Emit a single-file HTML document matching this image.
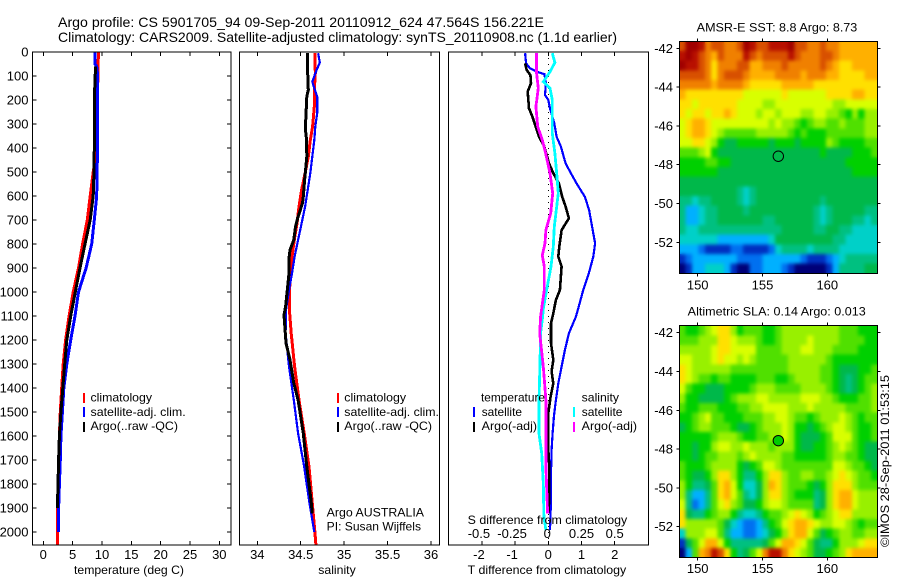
<!DOCTYPE html>
<html lang="en">
<head>
<meta charset="utf-8">
<title>Argo profile chart</title>
<style>
html,body{margin:0;padding:0;background:#fff;}
svg{display:block;font-family:"Liberation Sans",sans-serif;font-size:12px;fill:#000;}
text{fill:#000;}
</style>
</head>
<body>
<svg id="chart" xmlns="http://www.w3.org/2000/svg" width="900" height="580" viewBox="0 0 900 580">
  <rect x="0" y="0" width="900" height="580" fill="#fff"/>
  <defs id="chart-defs">
    <clipPath id="clip1"><rect x="32.5" y="52" width="198.5" height="493"/></clipPath>
    <clipPath id="clip2"><rect x="239.5" y="52" width="200" height="493"/></clipPath>
    <clipPath id="clip3"><rect x="448.5" y="52" width="200" height="493"/></clipPath>
    <filter id="mapBlur" x="-5%" y="-5%" width="110%" height="110%" color-interpolation-filters="sRGB"><feGaussianBlur stdDeviation="1.9"/></filter>
  </defs>
  <g id="layer-marks"></g>
  <g id="layer-axes"></g>

  <text x="58" y="27" font-size="14" textLength="486" lengthAdjust="spacingAndGlyphs">Argo profile: CS 5901705_94 09-Sep-2011 20110912_624 47.564S 156.221E</text>
  <text x="58" y="42" font-size="14" textLength="559" lengthAdjust="spacingAndGlyphs">Climatology: CARS2009. Satellite-adjusted climatology: synTS_20110908.nc (1.1d earlier)</text>

  <text x="74" y="574" textLength="110" lengthAdjust="spacingAndGlyphs">temperature (deg C)</text>
  <text x="318.3" y="574" textLength="37.4" lengthAdjust="spacingAndGlyphs">salinity</text>
  <text x="467.7" y="574" textLength="158.5" lengthAdjust="spacingAndGlyphs">T difference from climatology</text>
  <text x="467.7" y="524" textLength="159.5" lengthAdjust="spacingAndGlyphs">S difference from climatology</text>

  <g>
    <rect x="83" y="393" width="2" height="10" fill="#f00"/>
    <rect x="83" y="407" width="2" height="10" fill="#00f"/>
    <rect x="83" y="422" width="2" height="10" fill="#000"/>
    <text x="90.5" y="401.7" textLength="61.5" lengthAdjust="spacingAndGlyphs">climatology</text>
    <text x="90.5" y="416" textLength="95.2" lengthAdjust="spacingAndGlyphs">satellite-adj. clim.</text>
    <text x="90.5" y="430" textLength="87.5" lengthAdjust="spacingAndGlyphs">Argo(..raw -QC)</text>
  </g>
  <g>
    <rect x="337" y="393" width="2" height="10" fill="#f00"/>
    <rect x="337" y="407" width="2" height="10" fill="#00f"/>
    <rect x="337" y="422" width="2" height="10" fill="#000"/>
    <text x="344.3" y="401.7" textLength="61.7" lengthAdjust="spacingAndGlyphs">climatology</text>
    <text x="344.3" y="416" textLength="94.7" lengthAdjust="spacingAndGlyphs">satellite-adj. clim.</text>
    <text x="344.3" y="430" textLength="87.7" lengthAdjust="spacingAndGlyphs">Argo(..raw -QC)</text>
    <text x="326.7" y="516.7" textLength="97.3" lengthAdjust="spacingAndGlyphs">Argo AUSTRALIA</text>
    <text x="326.7" y="530.7" textLength="94.3" lengthAdjust="spacingAndGlyphs">PI: Susan Wijffels</text>
  </g>
  <g>
    <text x="481" y="401.7" textLength="64" lengthAdjust="spacingAndGlyphs">temperature</text>
    <rect x="473" y="407" width="2" height="10" fill="#00f"/>
    <text x="481.7" y="416" textLength="40.3" lengthAdjust="spacingAndGlyphs">satellite</text>
    <rect x="473" y="422" width="2" height="10" fill="#000"/>
    <text x="481.7" y="430" textLength="55.3" lengthAdjust="spacingAndGlyphs">Argo(-adj)</text>
    <text x="581.7" y="401.7" textLength="37.3" lengthAdjust="spacingAndGlyphs">salinity</text>
    <rect x="573" y="407" width="2" height="10" fill="#0ff"/>
    <text x="581.7" y="416" textLength="40.8" lengthAdjust="spacingAndGlyphs">satellite</text>
    <rect x="573" y="422" width="2" height="10" fill="#f0f"/>
    <text x="581.7" y="430" textLength="55.3" lengthAdjust="spacingAndGlyphs">Argo(-adj)</text>
  </g>

  <text x="696.7" y="31.7" textLength="160.6" lengthAdjust="spacingAndGlyphs">AMSR-E SST: 8.8 Argo: 8.73</text>
  <text x="687.7" y="315.7" textLength="178" lengthAdjust="spacingAndGlyphs">Altimetric SLA: 0.14 Argo: 0.013</text>
  <text transform="translate(889 547) rotate(-90)" x="0" y="0" textLength="172" lengthAdjust="spacingAndGlyphs">©IMOS 28-Sep-2011 01:53:15</text>
</svg>

<script>
// ---------- profile data (depth in dbar) ----------
const tempClimDepth=[0,100,430,500,600,700,800,900,1000,1100,1200,1300,1400,1500,1600,1700,1800,1900,2054];
const tempClim=[9.4,9.3,9.0,8.5,8.0,7.5,6.7,6.0,5.1,4.4,3.8,3.4,3.13,2.9,2.75,2.6,2.5,2.45,2.45];
const tempSatDepth=[0,50,60,100,400,500,600,700,800,900,1000,1100,1200,1300,1400,1500,1600,1700,1800,1900,2000];
const tempSat=[8.8,8.8,9.1,9.27,9.27,9.15,9.1,8.7,8.25,7.3,6.0,5.4,4.67,4.0,3.5,3.25,3.0,2.9,2.75,2.6,2.55];
const tempArgoDepth=[60,100,200,400,500,600,700,800,900,1000,1100,1200,1300,1500,1600,1700,1800,1900];
const tempArgo=[8.9,8.85,8.7,8.7,8.65,8.5,8.0,7.1,6.25,5.45,4.67,4.0,3.65,3.0,2.75,2.6,2.5,2.4];

const salClimDepth=[5,89,158,228,311,367,436,505,575,644,714,783,853,922,992,1075,1172,1311,1450,1589,1728,1867,2006,2054];
const salClim=[34.664,34.668,34.656,34.656,34.637,34.61,34.587,34.55,34.51,34.48,34.457,34.426,34.4,34.388,34.37,34.37,34.39,34.43,34.48,34.54,34.595,34.63,34.664,34.675];
const salSatDepth=[5,44,75,124,151,186,255,311,367,436,505,575,644,714,783,853,922,992,1075,1172,1311,1450,1589,1728,1867,2000];
const salSat=[34.7,34.72,34.683,34.633,34.656,34.69,34.69,34.668,34.656,34.633,34.61,34.58,34.55,34.51,34.47,34.43,34.4,34.365,34.33,34.326,34.365,34.42,34.47,34.54,34.595,34.656];
const salArgoDepth=[5,89,158,186,269,318,367,436,478,533,603,630,686,728,783,825,860,922,992,1061,1095,1213,1283,1380,1450,1589,1728,1867,1922];
const salArgo=[34.576,34.58,34.587,34.57,34.56,34.553,34.568,34.57,34.56,34.545,34.53,34.52,34.47,34.44,34.42,34.376,34.365,34.365,34.345,34.326,34.307,34.33,34.376,34.42,34.47,34.53,34.57,34.618,34.633];

const diffTSatDepth=[5,47,68,82,92,130,179,200,235,297,353,394,464,505,547,603,658,714,797,853,922,992,1069,1103,1172,1242,1311,1381,1450,1519,1589,1658,1756,1867,1992];
const diffTSat=[-0.7,-0.67,-0.55,-0.35,-0.12,-0.07,-0.1,0,0.05,0.18,0.25,0.38,0.52,0.68,0.85,1.1,1.23,1.3,1.41,1.355,1.22,1.05,0.9,0.83,0.62,0.5,0.4,0.3,0.23,0.17,0.13,0.1,0.08,0.08,0.05];
const diffTArgoDepth=[47,75,96,130,165,235,269,311,353,394,464,505,547,603,644,693,742,811,853,894,992,1033,1089,1130,1213,1283,1331,1381,1436,1505,1589,1658,1728,1867,1922];
const diffTArgo=[-0.7,-0.65,-0.54,-0.52,-0.62,-0.58,-0.48,-0.38,-0.28,-0.12,0.02,0.15,0.32,0.42,0.52,0.62,0.4,0.33,0.3,0.4,0.35,0.23,0.15,0.08,0.08,0.15,0.1,0.15,0.07,0,0,0,0.03,0.03,0];
const diffSSatDepth=[5,44,82,124,151,200,339,422,505,589,644,728,811,894,992,1069,1103,1172,1311,1450,1589,1672,1797,1936,1992];
const diffSSat=[0.03,0.05,0.0125,-0.0375,0.0125,0.03,0.03,0.05,0.063,0.075,0.063,0.045,0.038,0.02,-0.0125,-0.0375,-0.043,-0.058,-0.063,-0.07,-0.07,-0.05,-0.0375,-0.033,-0.018];
const diffSArgoDepth=[5,89,151,228,311,367,422,505,589,672,742,797,847,894,992,1069,1103,1172,1311,1450,1589,1728,1922];
const diffSArgo=[-0.088,-0.088,-0.075,-0.093,-0.08,-0.045,-0.02,0.0125,0.033,0.018,-0.018,-0.025,-0.045,-0.03,-0.03,-0.05,-0.058,-0.065,-0.038,-0.018,-0.018,-0.018,-0.005];

// ---------- tick labels ----------
const depthTicks=[0,100,200,300,400,500,600,700,800,900,1000,1100,1200,1300,1400,1500,1600,1700,1800,1900,2000];
const tempTicks=[0,5,10,15,20,25,30];
const salTicks=[34,34.5,35,35.5,36];
const diffTTicks=[-2,-1,0,1,2];
const diffSTicks=[-0.5,-0.25,0,0.25,0.5];
const lonTicks=[150,155,160];
const latTicks=[-42,-44,-46,-48,-50,-52];

// ---------- map data: colour-class value for each grid cell (rows north to south) ----------
const floatLon=156.221;
const floatLat=-47.564;
const sstCells=[
[14,16,16,15,13,14,14,13,13,14,16,15,14,14,15,15,15,16,14,14,13,13,14,13,13,12,12,12,12,12,12],
[15,16,15,14,13,12,14,13,13,13,15,14,13,14,14,14,14,15,14,13,13,13,14,14,13,12,12,12,12,12,12],
[16,15,15,14,13,11,13,13,13,14,14,12,12,13,13,13,14,13,13,13,13,13,14,13,12,11,11,12,12,12,12],
[14,14,14,14,13,11,13,14,14,14,13,12,12,12,12,13,13,13,13,12,13,13,13,12,12,11,11,11,11,12,12],
[13,13,13,13,13,12,13,13,13,13,12,11,11,11,11,11,12,12,12,12,12,11,11,11,11,11,11,11,11,11,11],
[12,11,11,11,11,11,11,11,11,11,10,10,10,10,10,10,11,10,10,10,10,10,10,11,11,11,11,12,12,11,11],
[11,11,10,11,11,11,11,11,11,10,10,10,10,9,9,10,10,10,10,10,10,10,10,10,9,9,10,10,10,10,10],
[11,10,11,11,10,11,11,12,11,10,10,10,9,10,10,9,10,10,10,9,9,10,10,9,9,8,7,9,7,9,9],
[10,11,12,12,11,10,10,10,10,10,10,10,10,10,9,10,9,9,8,7,8,9,9,8,8,9,8,8,8,9,9],
[10,11,12,12,11,10,9,8,8,8,8,8,9,9,9,9,9,8,7,8,7,7,7,8,8,8,8,8,8,9,9],
[10,10,11,11,10,9,7,6,6,7,7,7,7,7,6,7,7,7,6,7,7,7,7,9,8,7,7,7,7,8,8],
[8,8,8,9,10,7,6,6,6,6,6,6,6,6,6,6,6,6,6,6,6,6,7,6,6,6,6,7,7,7,8],
[7,7,7,7,8,8,7,7,6,6,6,6,6,6,6,6,6,6,6,6,6,6,6,6,6,6,7,7,7,7,7],
[7,7,7,7,7,7,6,6,6,6,6,6,6,6,6,6,6,6,6,6,6,6,6,6,6,6,6,7,7,7,7],
[6,6,6,6,6,6,6,6,6,6,6,6,6,6,6,6,6,6,6,6,6,6,6,6,6,6,6,6,6,6,6],
[6,6,6,6,6,6,6,6,6,5,4,5,6,6,6,6,6,6,6,6,6,6,6,6,6,6,6,6,6,6,6],
[5,5,4,5,5,6,6,6,6,5,4,5,6,6,6,6,6,6,6,6,6,6,5,6,6,6,6,6,6,6,6],
[5,3,3,4,5,5,6,6,6,6,5,6,6,6,6,6,6,6,6,6,6,5,4,5,6,6,6,6,6,5,5],
[5,3,3,4,5,5,6,6,6,6,6,6,6,5,5,6,6,6,6,6,6,5,4,5,6,6,6,5,5,4,5],
[5,4,4,5,5,5,5,5,5,5,5,5,5,5,5,5,6,6,6,6,6,5,5,6,6,5,5,4,4,4,4],
[4,4,4,4,4,4,3,3,3,3,3,3,3,3,4,6,6,6,6,6,6,6,6,6,5,5,4,4,4,4,4],
[3,3,3,2,1,1,1,1,2,2,1,1,1,1,2,4,5,5,5,5,4,5,5,5,5,4,4,4,4,4,4],
[1,2,3,3,3,3,3,3,3,2,2,2,2,3,3,3,3,3,3,2,1,1,1,2,3,4,5,5,5,5,5],
[0,1,3,3,4,4,4,3,1,0,0,2,2,3,3,3,2,1,0,0,0,0,0,1,3,5,5,5,5,6,6]
];
const slaCells=[
[8,7,7,8,9,10,11,11,9,7,8,8,8,7,7,8,9,9,9,9,9,9,9,9,9,8,8,8,7,7,7],
[8,8,8,9,9,9,11,11,10,9,9,9,8,7,7,8,9,9,9,9,10,9,9,9,9,8,8,8,8,7,7],
[9,9,9,9,9,10,11,11,10,10,10,10,8,8,8,8,9,9,9,10,10,9,9,9,8,8,8,8,7,7,7],
[10,10,9,9,9,10,11,10,10,9,10,9,8,8,8,8,8,9,9,9,9,9,9,8,7,7,7,7,7,7,7],
[11,10,9,9,9,9,9,9,8,8,8,8,8,8,8,8,8,9,9,9,9,9,8,8,7,6,6,6,7,7,8],
[11,10,9,8,8,7,8,8,7,7,7,7,8,8,8,7,7,8,9,9,9,9,8,8,7,6,5,6,7,8,8],
[10,8,7,7,6,6,6,7,7,7,7,8,9,9,9,8,8,8,8,9,9,9,9,8,7,6,5,6,7,8,9],
[9,7,7,6,6,6,6,7,8,9,9,9,10,10,9,9,9,9,9,10,10,10,9,9,8,7,7,7,8,8,9],
[8,7,7,8,8,8,7,7,7,8,8,9,9,10,10,10,10,9,9,9,10,9,9,9,9,9,8,8,8,8,9],
[7,7,8,9,10,8,8,7,7,7,8,8,8,9,9,10,10,9,8,8,7,8,9,9,9,10,9,8,7,8,8],
[6,7,8,9,9,8,8,8,7,6,6,7,8,9,9,9,10,9,7,7,6,7,8,9,10,10,9,8,7,7,8],
[7,7,7,7,7,8,9,9,9,8,7,7,8,8,9,9,10,9,7,6,6,6,7,8,10,10,10,8,7,7,8],
[7,7,6,7,7,9,10,10,9,9,10,9,9,9,8,9,9,9,7,6,6,7,7,8,9,10,9,8,7,6,6],
[7,7,6,7,8,8,9,9,9,8,9,10,9,9,9,9,8,8,7,7,7,7,7,8,9,9,8,8,7,6,6],
[8,7,7,7,8,9,9,9,9,7,6,7,8,10,10,9,8,8,8,8,8,8,8,8,10,10,9,8,8,7,6],
[8,7,6,6,7,9,11,11,9,7,5,5,7,9,11,11,9,8,8,9,9,8,8,9,10,11,10,9,8,8,7],
[9,7,5,5,6,8,11,12,10,7,4,4,6,9,12,11,9,8,8,8,7,6,7,9,11,11,11,9,8,8,8],
[9,5,3,3,5,8,11,12,10,8,5,4,6,9,11,11,9,8,7,7,7,5,6,9,11,12,12,10,9,9,9],
[10,5,2,3,5,8,10,11,9,8,6,6,7,9,10,10,9,8,8,8,8,5,6,9,11,12,12,10,9,9,9],
[11,6,5,5,7,8,9,9,7,5,4,4,5,7,8,8,9,10,11,10,9,7,8,9,10,11,11,9,9,9,9],
[11,9,9,9,9,9,8,6,4,3,2,2,3,5,7,8,10,11,12,12,11,10,9,9,10,10,9,8,7,8,8],
[4,9,9,9,10,10,8,5,3,3,2,2,3,4,6,7,9,11,12,12,10,8,6,7,8,9,9,8,8,9,9],
[1,6,8,10,12,12,10,7,5,5,5,5,5,6,8,10,12,12,11,10,8,6,5,5,7,9,9,9,10,11,11],
[0,3,8,12,13,15,14,11,7,5,6,8,10,13,15,15,13,11,10,9,8,6,6,7,8,9,11,12,12,12,12]
];

// ---------- colour scale ----------
const mapPalette=['#000078','#0030c0','#0070f0','#00b0ff','#00d0c8','#00c080','#00b84a','#00d000','#50e000','#98f000','#d8ff00','#ffe000','#ffb000','#f08000','#d85000','#b81000','#a00000'];

// ---------- axis functions ----------
const depthY=d=>52+d*0.24;
const tempX=t=>43.3+5.867*t;
const salX=s=>257.3+86.85*(s-34);
const diffTX=t=>548.3+33.2*t;
const diffSX=s=>548.3+132.8*s;
const mapX=lon=>697.7+12.96*(lon-150);
const sstY=lat=>48.3+19.4*(-42-lat);
const slaY=lat=>332.7+19.4*(-42-lat);

const NS='http://www.w3.org/2000/svg';
const marks=document.getElementById('layer-marks');
const axes=document.getElementById('layer-axes');
const defs=document.getElementById('chart-defs');

function mk(tag,attrs,parent){
  const el=document.createElementNS(NS,tag);
  for(const k in attrs){el.setAttribute(k,attrs[k]);}
  parent.appendChild(el);
  return el;
}

function drawProfile(name,depths,values,xFn,color,clip,width){
  const pts=depths.map((d,i)=>xFn(values[i]).toFixed(1)+','+depthY(d).toFixed(1)).join(' ');
  const el=mk('polyline',{points:pts,fill:'none',stroke:color,'stroke-width':width,'shape-rendering':'crispEdges','clip-path':'url(#'+clip+')'},marks);
  
  
}

function drawBox(name,x0,x1,y0,y1){
  const el=mk('rect',{x:x0,y:y0,width:x1-x0,height:y1-y0,fill:'none',stroke:'#000','stroke-width':1,'shape-rendering':'crispEdges'},axes);
  
  
}

function drawTick(name,x1,y1,x2,y2){
  const el=mk('line',{x1:x1,y1:y1,x2:x2,y2:y2,stroke:'#000','stroke-width':1,'shape-rendering':'crispEdges'},axes);
  
  
}

function drawLabel(name,x,y,str,anchor){
  const el=mk('text',{x:x,y:y,'text-anchor':anchor,'font-size':13},axes);
  el.textContent=str;
  
  
}

// ---------- zero line in the difference panel ----------
const zeroLine=mk('line',{x1:diffTX(0),y1:52,x2:diffTX(0),y2:545,stroke:'#000','stroke-width':1,'stroke-dasharray':'1 5','shape-rendering':'crispEdges'},marks);



// ---------- profile series ----------
drawProfile('temperature-climatology-line',tempClimDepth,tempClim,tempX,'#f00','clip1',3);
drawProfile('temperature-satellite-line',tempSatDepth,tempSat,tempX,'#00f','clip1',3);
drawProfile('temperature-argo-line',tempArgoDepth,tempArgo,tempX,'#000','clip1',3);
drawProfile('salinity-climatology-line',salClimDepth,salClim,salX,'#f00','clip2',3);
drawProfile('salinity-satellite-line',salSatDepth,salSat,salX,'#00f','clip2',2.2);
drawProfile('salinity-argo-line',salArgoDepth,salArgo,salX,'#000','clip2',3);
drawProfile('t-difference-satellite-line',diffTSatDepth,diffTSat,diffTX,'#00f','clip3',2.2);
drawProfile('t-difference-argo-line',diffTArgoDepth,diffTArgo,diffTX,'#000','clip3',2.6);
drawProfile('s-difference-satellite-line',diffSSatDepth,diffSSat,diffSX,'#0ff','clip3',2.8);
drawProfile('s-difference-argo-line',diffSArgoDepth,diffSArgo,diffSX,'#f0f','clip3',2.8);

// ---------- profile axes ----------
const panelTop=52, panelBottom=545;
drawBox('temperature-panel-frame',32.5,231,panelTop,panelBottom);
drawBox('salinity-panel-frame',239.5,439.5,panelTop,panelBottom);
drawBox('difference-panel-frame',448.5,648.5,panelTop,panelBottom);

depthTicks.forEach(d=>{
  drawTick('depth-tick-left',32.5,depthY(d),36.5,depthY(d));
  drawTick('depth-tick-right',231,depthY(d),227,depthY(d));
  drawLabel('depth-tick-label',28.5,depthY(d)+4.5,String(d),'end');
});
tempTicks.forEach(t=>{
  drawTick('temperature-tick-top',tempX(t),panelTop,tempX(t),panelTop+4);
  drawTick('temperature-tick-bottom',tempX(t),panelBottom,tempX(t),panelBottom-4);
  drawLabel('temperature-tick-label',tempX(t),559,String(t),'middle');
});
salTicks.forEach(s=>{
  drawTick('salinity-tick-top',salX(s),panelTop,salX(s),panelTop+4);
  drawTick('salinity-tick-bottom',salX(s),panelBottom,salX(s),panelBottom-4);
  drawLabel('salinity-tick-label',salX(s),559,String(s),'middle');
});
diffTTicks.forEach(t=>{
  drawTick('t-difference-tick-top',diffTX(t),panelTop,diffTX(t),panelTop+4);
  drawTick('t-difference-tick-bottom',diffTX(t),panelBottom,diffTX(t),panelBottom-4);
  drawLabel('t-difference-tick-label',diffTX(t)+(t<0?-3:0),559,String(t),'middle');
});
diffSTicks.forEach(s=>{
  drawLabel('s-difference-tick-label',diffSX(s)+(s<0?-3:(s===0?-1:0)),538,String(s),'middle');
});

// ---------- maps ----------
const lonWest=148.58, lonEast=163.86, latNorth=-41.64, latSouth=-53.6;

function drawMap(prefix,cells,yFn,xLabelY){
  const rows=cells.length, cols=cells[0].length;
  const dLon=(lonEast-lonWest)/cols, dLat=(latNorth-latSouth)/rows;
  const left=mapX(lonWest), right=mapX(lonEast), top=yFn(latNorth), bottom=yFn(latSouth);
  const clip=mk('clipPath',{id:prefix+'-clip'},defs);
  mk('rect',{x:left,y:top,width:right-left,height:bottom-top},clip);
  const holder=mk('g',{'clip-path':'url(#'+prefix+'-clip)'},marks);
  
  
  const grid=mk('g',{id:prefix+'-grid'},holder);
  
  
  cells.forEach((row,r)=>{
    row.forEach((v,c)=>{
      const x0=mapX(lonWest+c*dLon), x1=mapX(lonWest+(c+1)*dLon);
      const y0=yFn(latNorth-r*dLat), y1=yFn(latNorth-(r+1)*dLat);
      const cell=mk('rect',{x:x0.toFixed(2),y:y0.toFixed(2),width:(x1-x0+0.4).toFixed(2),height:(y1-y0+0.4).toFixed(2),fill:mapPalette[v],'shape-rendering':'crispEdges'},grid);
      
      
    });
  });
  const smooth=mk('use',{href:'#'+prefix+'-grid',filter:'url(#mapBlur)'},holder);
  
  
  drawBox(prefix+'-frame',left,right,top,bottom);
  lonTicks.forEach(lon=>{
    drawTick(prefix+'-lon-tick-top',mapX(lon),top,mapX(lon),top-3);
    drawTick(prefix+'-lon-tick-bottom',mapX(lon),bottom,mapX(lon),bottom+3);
    drawLabel(prefix+'-lon-label',mapX(lon),xLabelY,String(lon),'middle');
  });
  latTicks.forEach(lat=>{
    drawTick(prefix+'-lat-tick-left',left,yFn(lat),left-3,yFn(lat));
    drawTick(prefix+'-lat-tick-right',right,yFn(lat),right+3,yFn(lat));
    drawLabel(prefix+'-lat-label',673,yFn(lat)+4.5,String(lat),'end');
  });
}
drawMap('sst-map',sstCells,sstY,289.3);
drawMap('sla-map',slaCells,slaY,573);

const sstMarker=mk('circle',{cx:mapX(floatLon),cy:sstY(floatLat),r:5.2,fill:'none',stroke:'#000','stroke-width':1},axes);


const slaMarker=mk('circle',{cx:mapX(floatLon),cy:slaY(floatLat),r:5.2,fill:'#00cc00',stroke:'#000','stroke-width':1},axes);


</script>
</body>
</html>
